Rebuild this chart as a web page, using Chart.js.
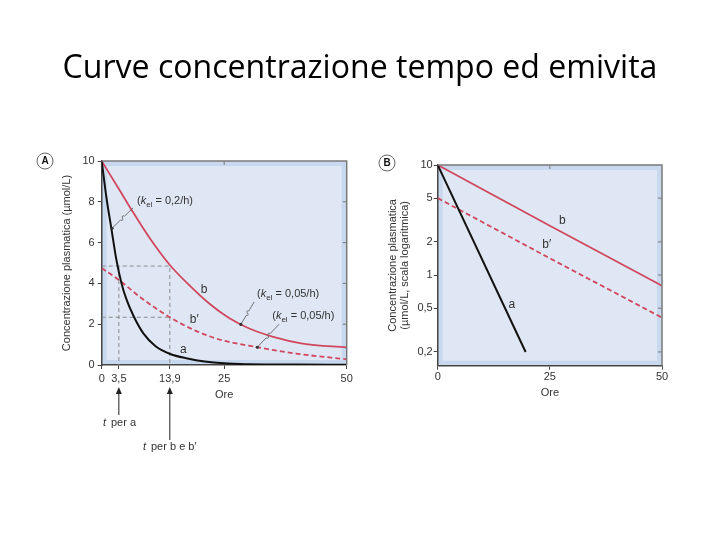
<!DOCTYPE html>
<html lang="it">
<head>
<meta charset="UTF-8">
<title>Curve concentrazione tempo ed emivita</title>
<script src="https://cdn.jsdelivr.net/npm/chart.js"></script>
<style>
  html, body { margin: 0; padding: 0; background: #fff; }
  #wrap { position: relative; width: 720px; height: 540px; }
  #wrap canvas { position: absolute; left: 0; top: 0; }
</style>
</head>
<body>
<div id="wrap">
  <canvas id="graficoA" width="720" height="540"></canvas>
  <canvas id="graficoB" width="720" height="540"></canvas>
</div>
<script>
// ---- dati (ore, µmol/L) ----
// pannello A, scala lineare
const oreA_a   = [0, 1, 2, 3, 4, 5, 6.5, 8.5, 11, 14, 17.5, 21, 25, 30, 40, 50];
const concA_a  = [10, 8.15, 6.65, 5.15, 4.05, 3.25, 2.4, 1.55, 0.92, 0.54, 0.32, 0.17, 0.08, 0.04, 0.02, 0.01];
const oreA_b   = [0, 3.7, 6.5, 10, 13.9, 17.5, 22, 26, 30, 35, 41, 50];
const concA_b  = [10, 8.55, 7.45, 6.15, 4.9, 4.0, 3.0, 2.3, 1.8, 1.38, 1.05, 0.86];
const oreA_b2  = [0, 3.5, 8, 13.9, 19, 24, 31.8, 40, 50];
const concA_b2 = [4.75, 4.17, 3.3, 2.34, 1.7, 1.25, 0.87, 0.55, 0.28];
// emivita e concentrazione dimezzata (linee tratteggiate)
const tEmivita  = [3.5, 13.9];
const concMeta  = [4.85, 2.34];

// pannello B, scala logaritmica
const oreB_a   = [0, 19.6];
const concB_a  = [10, 0.2];
const oreB_b   = [0, 25, 50];
const concB_b  = [10, 2.8, 0.8];
const oreB_b2  = [0, 25, 50];
const concB_b2 = [5, 1.42, 0.41];

// etichette degli assi
const tickOreA  = [0, 3.5, 13.9, 25, 50];
const tickConcA = [0, 2, 4, 6, 8, 10];
const tickOreB  = [0, 25, 50];
const tickConcB = [0.2, 0.5, 1, 2, 5, 10];

const TITOLO = 'Curve concentrazione tempo ed emivita';
const ROSSO = '#d0485e';
const TESTO = '#333';
const FONT = '"Liberation Sans", Arial, sans-serif';

const punti = (xs, ys) => xs.map((x, i) => ({x: x, y: ys[i]}));
const virgola = v => String(v).replace('.', ',');

// titolo della diapositiva, centrato sulla pagina
const titoloPlugin = {
  id: 'titolo',
  afterDraw(chart) {
    const ctx = chart.ctx;
    ctx.save();
    ctx.font = '28px "Open Sans"';
    const w = ctx.measureText(TITOLO).width;
    const size = 28 * 595 / w;
    ctx.font = size.toFixed(2) + 'px "Open Sans"';
    ctx.fillStyle = '#000';
    ctx.textAlign = 'center';
    ctx.textBaseline = 'alphabetic';
    ctx.fillText(TITOLO, 360, 78);
    ctx.restore();
  }
};

// sfondo azzurro dell'area del grafico + cornice
function sfondoPlugin(extraTicks) {
  return {
    id: 'sfondo',
    beforeDraw(chart) {
      const {ctx, chartArea: c} = chart;
      ctx.save();
      ctx.fillStyle = '#c8d8ee';
      ctx.fillRect(c.left, c.top, c.width, c.height);
      ctx.fillStyle = '#e0e7f4';
      ctx.fillRect(c.left + 5, c.top + 5, c.width - 10, c.height - 10);
      ctx.restore();
    },
    afterDraw(chart) {
      const {ctx, chartArea: c, scales} = chart;
      ctx.save();
      ctx.strokeStyle = '#7a7a7a';
      ctx.lineWidth = 1.5;
      ctx.beginPath();
      ctx.moveTo(c.left, c.top);
      ctx.lineTo(c.right, c.top);
      ctx.lineTo(c.right, c.bottom);
      ctx.stroke();
      // tacche interne a destra e in alto
      ctx.lineWidth = 1;
      ctx.beginPath();
      extraTicks.y.forEach(v => {
        const y = scales.y.getPixelForValue(v);
        ctx.moveTo(c.right, y); ctx.lineTo(c.right - 4, y);
      });
      extraTicks.x.forEach(v => {
        const x = scales.x.getPixelForValue(v);
        ctx.moveTo(x, c.top); ctx.lineTo(x, c.top + 4);
      });
      ctx.stroke();
      ctx.restore();
    }
  };
}

function cerchio(ctx, x, y, lettera) {
  ctx.save();
  ctx.strokeStyle = '#666';
  ctx.lineWidth = 1;
  ctx.beginPath();
  ctx.arc(x, y, 8, 0, Math.PI * 2);
  ctx.stroke();
  ctx.fillStyle = '#111';
  ctx.font = 'bold 10px ' + FONT;
  ctx.textAlign = 'center';
  ctx.textBaseline = 'middle';
  ctx.fillText(lettera, x, y + 0.5);
  ctx.restore();
}

// "(k_el = 0,2/h)"
function kel(ctx, x, y, valore) {
  ctx.textAlign = 'left';
  ctx.textBaseline = 'alphabetic';
  ctx.font = '11px ' + FONT;
  ctx.fillText('(', x, y); x += ctx.measureText('(').width;
  ctx.font = 'italic 11px ' + FONT;
  ctx.fillText('k', x, y); x += ctx.measureText('k').width;
  ctx.font = '8px ' + FONT;
  ctx.fillText('el', x, y + 3); x += ctx.measureText('el').width;
  ctx.font = '11px ' + FONT;
  ctx.fillText(' = ' + valore + ')', x, y);
}

// linea di richiamo con piccola onda
function richiamo(ctx, x0, y0, x1, y1) {
  const mx = (x0 + x1) / 2, my = (y0 + y1) / 2;
  const dx = x1 - x0, dy = y1 - y0, len = Math.hypot(dx, dy);
  const nx = -dy / len * 3, ny = dx / len * 3;
  ctx.beginPath();
  ctx.moveTo(x0, y0);
  ctx.lineTo(mx - dx * 0.1, my - dy * 0.1);
  ctx.quadraticCurveTo(mx - dx * 0.05 + nx, my - dy * 0.05 + ny, mx, my);
  ctx.quadraticCurveTo(mx + dx * 0.05 - nx, my + dy * 0.05 - ny, mx + dx * 0.1, my + dy * 0.1);
  ctx.lineTo(x1, y1);
  ctx.stroke();
  ctx.beginPath();
  ctx.arc(x1, y1, 1.6, 0, Math.PI * 2);
  ctx.fill();
}

function freccia(ctx, x, yTop, yBot) {
  ctx.beginPath();
  ctx.moveTo(x, yBot); ctx.lineTo(x, yTop + 5);
  ctx.stroke();
  ctx.beginPath();
  ctx.moveTo(x, yTop); ctx.lineTo(x - 3, yTop + 7); ctx.lineTo(x + 3, yTop + 7);
  ctx.closePath();
  ctx.fill();
}

const noteA = {
  id: 'noteA',
  afterDraw(chart) {
    const {ctx, scales: {x: sx, y: sy}} = chart;
    const px = v => sx.getPixelForValue(v), py = v => sy.getPixelForValue(v);
    ctx.save();
    ctx.fillStyle = TESTO;
    ctx.strokeStyle = '#555';
    ctx.lineWidth = 0.8;
    // richiami k_el
    kel(ctx, px(7.2), py(7.9), '0,2/h');
    richiamo(ctx, px(6.4), py(7.7), px(2.1), py(6.7));
    kel(ctx, px(31.7), py(3.33), '0,05/h');
    richiamo(ctx, px(31.1), py(3.09), px(28.4), py(1.99));
    kel(ctx, px(34.8), py(2.25), '0,05/h');
    richiamo(ctx, px(36.2), py(2.0), px(31.75), py(0.87));
    // nomi delle curve
    ctx.font = '12px ' + FONT;
    ctx.textAlign = 'center';
    ctx.textBaseline = 'middle';
    ctx.fillText('b', px(20.9), py(3.68));
    ctx.fillText('b\u2032', px(18.9), py(2.2));
    ctx.fillText('a', px(16.65), py(0.74));
    // frecce sotto l'asse
    ctx.strokeStyle = '#222';
    ctx.fillStyle = '#222';
    ctx.lineWidth = 1;
    freccia(ctx, px(tEmivita[0]), 387, 415);
    freccia(ctx, px(tEmivita[1]), 387, 440);
    ctx.fillStyle = TESTO;
    ctx.textAlign = 'left';
    ctx.font = 'italic 11px ' + FONT;
    ctx.fillText('t', 103, 423);
    ctx.fillText('t', 143, 447);
    ctx.font = '11px ' + FONT;
    ctx.fillText('per a', 111, 423);
    ctx.fillText('per b e b\u2032', 151, 447);
    cerchio(ctx, 45, 161, 'A');
    ctx.restore();
  }
};

const noteB = {
  id: 'noteB',
  afterDraw(chart) {
    const {ctx, scales: {x: sx, y: sy}} = chart;
    const px = v => sx.getPixelForValue(v), py = v => sy.getPixelForValue(v);
    ctx.save();
    ctx.fillStyle = TESTO;
    ctx.font = '12px ' + FONT;
    ctx.textAlign = 'center';
    ctx.textBaseline = 'middle';
    ctx.fillText('b', px(27.8), py(3.1));
    ctx.fillText('b\u2032', px(24.3), py(1.87));
    ctx.fillText('a', px(16.5), py(0.54));
    cerchio(ctx, 387, 163, 'B');
    ctx.restore();
  }
};

const fontAssi = {family: FONT, size: 11};
const tacche = {drawOnChartArea: false, tickLength: 4, color: '#444'};
const bordo = {color: '#444', width: 1.5};

function curva(xs, ys, colore, tratteggio, ordine) {
  return {
    data: punti(xs, ys),
    borderColor: colore,
    borderWidth: colore === ROSSO ? 1.8 : 2,
    borderDash: tratteggio ? [5, 3] : [],
    pointRadius: 0,
    cubicInterpolationMode: 'monotone',
    order: ordine
  };
}
function guida(pts) {
  return {data: pts, borderColor: '#8a8a8a', borderWidth: 1, borderDash: [4, 3], pointRadius: 0, tension: 0, order: 9};
}

function disegna() {
  // ---- grafico A ----
  new Chart(document.getElementById('graficoA'), {
    type: 'line',
    data: {
      datasets: [
        curva(oreA_a, concA_a, '#111', false, 1),
        curva(oreA_b, concA_b, ROSSO, false, 2),
        curva(oreA_b2, concA_b2, ROSSO, true, 3),
        guida([{x: 0, y: concMeta[0]}, {x: tEmivita[1], y: concMeta[0]}, {x: tEmivita[1], y: 0}]),
        guida([{x: tEmivita[0], y: concMeta[0]}, {x: tEmivita[0], y: 0}]),
        guida([{x: 0, y: concMeta[1]}, {x: tEmivita[1], y: concMeta[1]}])
      ]
    },
    options: {
      responsive: false,
      animation: false,
      layout: {padding: {left: 56.7, right: 373.3, top: 161, bottom: 140}},
      plugins: {legend: {display: false}, tooltip: {enabled: false}},
      scales: {
        x: {
          type: 'linear', min: 0, max: 50,
          afterBuildTicks: s => { s.ticks = tickOreA.map(v => ({value: v})); },
          afterFit: s => { s.height = 35; },
          ticks: {callback: virgola, font: fontAssi, color: TESTO, padding: 3, autoSkip: false, maxRotation: 0},
          grid: tacche,
          border: bordo,
          title: {display: true, text: 'Ore', font: {family: FONT, size: 11, lineHeight: 1}, color: TESTO, padding: 0}
        },
        y: {
          min: 0, max: 10,
          afterBuildTicks: s => { s.ticks = tickConcA.map(v => ({value: v})); },
          afterFit: s => { s.width = 45; },
          ticks: {callback: virgola, font: fontAssi, color: TESTO, padding: 3},
          grid: tacche,
          border: bordo,
          title: {display: true, text: 'Concentrazione plasmatica (\u00b5mol/L)', font: {family: FONT, size: 11, lineHeight: 1.2}, color: TESTO, padding: {top: 3.4, bottom: 0}}
        }
      }
    },
    plugins: [sfondoPlugin({x: [25], y: [2, 4, 6, 8]}), noteA, titoloPlugin]
  });

  // ---- grafico B ----
  new Chart(document.getElementById('graficoB'), {
    type: 'line',
    data: {
      datasets: [
        Object.assign(curva(oreB_a, concB_a, '#111', false, 1), {cubicInterpolationMode: 'default', tension: 0}),
        Object.assign(curva(oreB_b, concB_b, ROSSO, false, 2), {cubicInterpolationMode: 'default', tension: 0}),
        Object.assign(curva(oreB_b2, concB_b2, ROSSO, true, 3), {cubicInterpolationMode: 'default', tension: 0})
      ]
    },
    options: {
      responsive: false,
      animation: false,
      layout: {padding: {left: 377.7, right: 58, top: 165, bottom: 139.3}},
      plugins: {legend: {display: false}, tooltip: {enabled: false}},
      scales: {
        x: {
          type: 'linear', min: 0, max: 50,
          afterBuildTicks: s => { s.ticks = tickOreB.map(v => ({value: v})); },
          afterFit: s => { s.height = 35; },
          ticks: {callback: virgola, font: fontAssi, color: TESTO, padding: 1, autoSkip: false, maxRotation: 0},
          grid: tacche,
          border: bordo,
          title: {display: true, text: 'Ore', font: {family: FONT, size: 11, lineHeight: 1}, color: TESTO, padding: {top: 0, bottom: 2}}
        },
        y: {
          type: 'logarithmic', min: 0.15, max: 10,
          afterBuildTicks: s => { s.ticks = tickConcB.map(v => ({value: v})); },
          afterFit: s => { s.width = 60; },
          ticks: {callback: virgola, font: fontAssi, color: TESTO, padding: 1},
          grid: tacche,
          border: bordo,
          title: {
            display: true,
            text: ['Concentrazione plasmatica', '(\u00b5mol/L, scala logaritmica)'],
            font: {family: FONT, size: 11, lineHeight: 1.1}, color: TESTO,
            padding: {top: 9, bottom: 0}
          }
        }
      }
    },
    plugins: [sfondoPlugin({x: [25], y: [0.2, 0.5, 1, 2, 5]}), noteB]
  });
}

// aspetto i font locali prima di disegnare
Promise.all([
  document.fonts.load('28px "Open Sans"'),
  document.fonts.load('11px "Liberation Sans"'),
  document.fonts.load('italic 11px "Liberation Sans"')
]).then(disegna, disegna);
</script>
</body>
</html>
